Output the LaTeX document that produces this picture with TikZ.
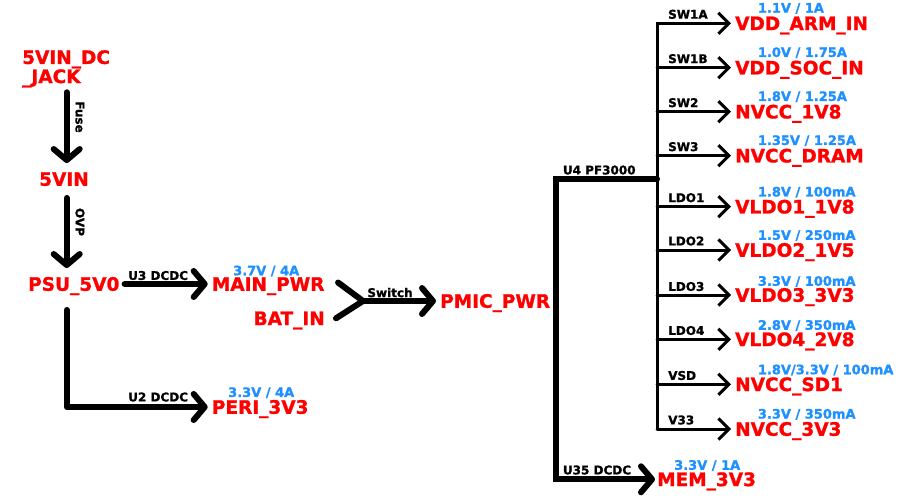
\documentclass[tikz,border=0pt]{standalone}
\usepackage{fontspec}
\setmainfont{DejaVu Sans}[BoldFeatures={FakeBold=1.2}]
\usetikzlibrary{arrows.meta}
\definecolor{netred}{RGB}{255,0,0}
\definecolor{railblue}{RGB}{30,144,255}

\begin{document}
\begin{tikzpicture}[x=1pt,y=-1pt,
  net/.style={text=netred, font=\bfseries\fontsize{18.5}{16.6}\selectfont,
    inner sep=0pt, text height=13.5pt, text depth=0pt, anchor=west},
  rail/.style={text=railblue, font=\bfseries\fontsize{13}{14}\selectfont,
    inner sep=0pt, text height=9.5pt, text depth=0pt, anchor=west},
  part/.style={font=\bfseries\fontsize{12}{13}\selectfont,
    inner sep=0pt, text height=8.75pt, text depth=0pt, anchor=west},
  feed/.style={line width=6pt, line cap=round, line join=round},
  feedarrow/.style={feed, -{Straight Barb[length=11pt,width=26pt,line cap=round,line join=round]}},
  tap/.style={line width=3pt, line cap=round},
  taparrow/.style={tap, -{Straight Barb[length=10.5pt,width=21pt]}},
]
\useasboundingbox (0,0) rectangle (917,498);

% ---------- input chain ----------
\coordinate (col) at (66.7,0);
\node[text=netred, font=\bfseries\fontsize{18.5}{16.6}\selectfont, inner sep=0pt,
      align=left, anchor=north west] (jack) at (22,50) {5VIN\_DC\\\_JACK};
\node[net] (vin) at (39,179) {5VIN};
\node[net] (psu) at (28,284) {PSU\_5V0};

\draw[feedarrow, shorten >=9pt] (jack.north -| col) ++(0,42.3) -- (vin.north -| col);
\node[part, anchor=center, rotate=-90] (fuse) at (80,117) {Fuse};
\draw[feedarrow, shorten <=12pt, shorten >=9pt] (vin.south -| col) -- (psu.north -| col);
\node[part, anchor=center, rotate=-90] (ovp) at (80,222) {OVP};

% ---------- DC/DC stages ----------
\node[net] (main) at (211.7,284) {MAIN\_PWR};
\node[rail] (mainv) at (233,270.5) {3.7V / 4A};
\draw[feedarrow, shorten <=5pt, shorten >=4pt] (psu.east) -- (main.west);
\node[part] (u3) at (128,275.5) {U3 DCDC};

\node[net] (peri) at (211.7,407) {PERI\_3V3};
\node[rail] (periv) at (228,392.2) {3.3V / 4A};
\draw[feedarrow, shorten <=19pt, shorten >=4pt] (psu.south -| col) |- (peri.west);
\node[part] (u2) at (128,397) {U2 DCDC};

% ---------- power path switch ----------
\node[net, anchor=east] (bat) at (325,318.3) {BAT\_IN};
\node[net] (pmic) at (440,301) {PMIC\_PWR};
\coordinate (sw) at (363,301);
\draw[feed] ([xshift=13.4pt,yshift=1.5pt]main.east) -- (sw);
\draw[feed] ([xshift=11pt]bat.east) -- (sw);
\draw[feedarrow, shorten >=4pt] (sw) -- (pmic.west);
\node[part, anchor=center] (swlab) at (390,292.7) {Switch};

% ---------- PMIC outputs ----------
\coordinate (pfout) at (657,179);
\coordinate (trunk) at (555.5,179);

\node[net] (arm)  at (735,23.3)  {VDD\_ARM\_IN};
\node[net] (soc)  at (735,67.7)  {VDD\_SOC\_IN};
\node[net] (n1v8) at (735,111.7) {NVCC\_1V8};
\node[net] (dram) at (735,155.7) {NVCC\_DRAM};
\node[net] (ldoa) at (735,206.7) {VLDO1\_1V8};
\node[net] (ldob) at (735,250)   {VLDO2\_1V5};
\node[net] (ldoc) at (735,295)   {VLDO3\_3V3};
\node[net] (ldod) at (735,339.3) {VLDO4\_2V8};
\node[net] (sd)   at (735,384.3) {NVCC\_SD1};
\node[net] (n3v3) at (735,429)   {NVCC\_3V3};

\node[rail] at (757.7,7.8)   {1.1V / 1A};
\node[rail] at (757.7,52.2)  {1.0V / 1.75A};
\node[rail] at (757.7,96.2)  {1.8V / 1.25A};
\node[rail] at (757.7,140.2) {1.35V / 1.25A};
\node[rail] at (757.7,191.7) {1.8V / 100mA};
\node[rail] at (757.7,235)   {1.5V / 250mA};
\node[rail] at (757.7,281)   {3.3V / 100mA};
\node[rail] at (757.7,325)   {2.8V / 350mA};
\node[rail] at (757.7,369.5) {1.8V/3.3V / 100mA};
\node[rail] at (757.7,413.8) {3.3V / 350mA};

\node[part] at (668,14.3)  {SW1A};
\node[part] at (668,58.7)  {SW1B};
\node[part] at (668,102.7) {SW2};
\node[part] at (668,146.7) {SW3};
\node[part] at (668,197.7) {LDO1};
\node[part] at (668,241)   {LDO2};
\node[part] at (668,286.5) {LDO3};
\node[part] at (668,330.5) {LDO4};
\node[part] at (668,375.5) {VSD};
\node[part] at (668,420)   {V33};

% thin distribution bus, closed at the top by the SW1A tap
\draw[taparrow, line join=miter, shorten >=4pt]
  (n3v3.west -| pfout) -- (arm.west -| pfout) -- (arm.west);
\foreach \n in {soc,n1v8,dram,ldoa,ldob,ldoc,ldod,sd,n3v3}
  \draw[taparrow, shorten >=4pt] (\n.west -| pfout) -- (\n.west);

% PF3000 trunk and the U35 branch
\node[net] (mem) at (657,479.3) {MEM\_3V3};
\node[rail] (memv) at (674,465) {3.3V / 1A};
\draw[feedarrow, line join=miter, shorten >=2pt] (pfout) -- (trunk) |- (mem.west);
\node[part] (u4) at (562.7,170) {U4 PF3000};
\node[part] (u35) at (562.7,470) {U35 DCDC};
\end{tikzpicture}
\end{document}
